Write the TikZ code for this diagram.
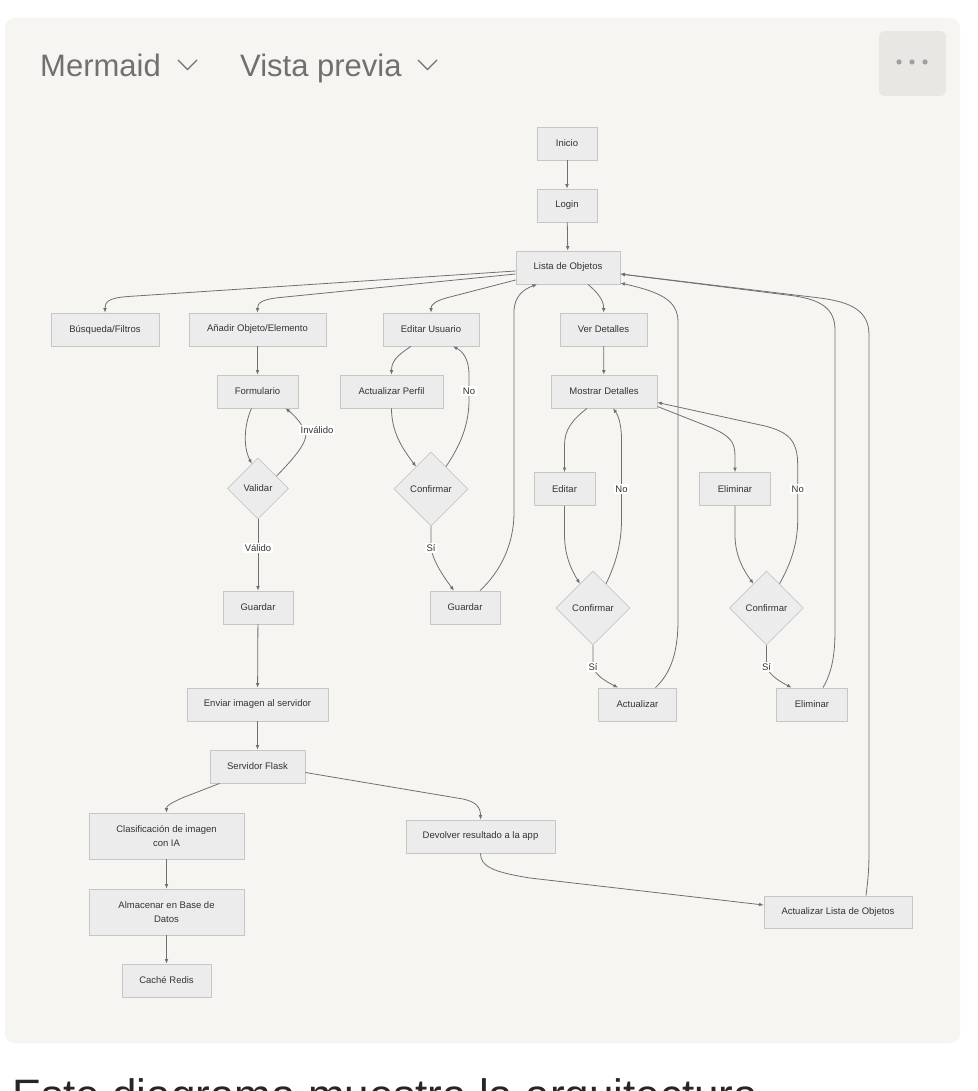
\documentclass[tikz,border=0pt]{standalone}
\usepackage{fontspec}
\setmainfont{Liberation Sans}
\usetikzlibrary{shapes.geometric,arrows.meta,calc}
\definecolor{panel}{HTML}{F6F5F2}
\definecolor{nodef}{HTML}{ECECEC}
\definecolor{nodeb}{HTML}{C6C6C6}
\definecolor{edgec}{HTML}{707070}
\definecolor{txt}{HTML}{333333}
\definecolor{hdr}{HTML}{707070}
\definecolor{btn}{HTML}{E8E7E4}
\definecolor{dots}{HTML}{A0A0A0}
\begin{document}
\begin{tikzpicture}[x=1pt,y=-1pt,
  box/.style={rectangle, draw=nodeb, fill=nodef, line width=0.8pt, inner sep=0pt,
    minimum height=33pt, font=\fontsize{9.5}{14}\selectfont, text=txt, align=center},
  dia/.style={diamond, draw=nodeb, fill=nodef, line width=0.8pt, inner sep=0pt,
    font=\fontsize{9.5}{14}\selectfont, text=txt},
  e/.style={draw=edgec, line width=0.8pt, -{Latex[length=4.5pt,width=3.8pt]}},
  lbl/.style={fill=white, inner sep=1.5pt, font=\fontsize{9.5}{11}\selectfont, text=txt},
  hd/.style={anchor=base west, inner sep=0pt, font=\fontsize{31}{31}\selectfont, text=hdr}]
\useasboundingbox (0,0) rectangle (977,1091);
\fill[white] (0,0) rectangle (977,1091);
\fill[panel, rounded corners=10pt] (5,18) rectangle (960,1043);
% header
\node[hd] (mermaid) at (40,77) {Mermaid};
\draw[hdr, line width=1.2pt] (178,60) -- (187.5,69.5) -- (197,60);
\node[hd] (vista) at (240,77) {Vista previa};
\draw[hdr, line width=1.2pt] (418,60) -- (427.5,69.5) -- (437,60);
\fill[btn, rounded corners=6pt] (879,31) rectangle (946,96);
\foreach \xx in {899,912,925} \fill[dots] (\xx,62) circle (2.6pt);
% nodes
\node[box, minimum width=60pt] (inicio) at (567,143.5) {Inicio};
\node[box, minimum width=60pt] (login) at (567,205.5) {Login};
\node[box, minimum width=104pt] (lista) at (568,267.5) {Lista de Objetos};
\node[box, minimum width=108pt] (busq) at (105,329.5) {Búsqueda/Filtros};
\node[box, minimum width=137pt] (anad) at (257.5,329.5) {Añadir Objeto/Elemento};
\node[box, minimum width=96pt] (editu) at (431,329.5) {Editar Usuario};
\node[box, minimum width=87pt] (ver) at (603.5,329.5) {Ver Detalles};
\node[box, minimum width=81pt] (form) at (257.5,391.5) {Formulario};
\node[box, minimum width=103pt] (perfil) at (391.5,391.5) {Actualizar Perfil};
\node[box, minimum width=106pt] (mostrar) at (604,391.5) {Mostrar Detalles};
\node[dia, minimum width=61pt, minimum height=61pt] (validar) at (258,488.5) {Validar};
\node[dia, minimum width=74pt, minimum height=74pt] (conf1) at (431,489) {Confirmar};
\node[box, minimum width=61pt] (editar) at (564.5,489) {Editar};
\node[box, minimum width=71pt] (elim1) at (735,489) {Eliminar};
\node[dia, minimum width=74pt, minimum height=74pt] (conf2) at (593,608) {Confirmar};
\node[dia, minimum width=74pt, minimum height=74pt] (conf3) at (766.5,608) {Confirmar};
\node[box, minimum width=70pt] (guardL) at (258,607.5) {Guardar};
\node[box, minimum width=70pt] (guardR) at (465,607.5) {Guardar};
\node[box, minimum width=78pt] (actualizar) at (637.5,704.5) {Actualizar};
\node[box, minimum width=71pt] (elim2) at (812,704.5) {Eliminar};
\node[box, minimum width=141pt] (enviar) at (257.5,704.5) {Enviar imagen al servidor};
\node[box, minimum width=95pt] (flask) at (257.5,766.5) {Servidor Flask};
\node[box, minimum width=155pt, minimum height=46pt] (clasif) at (166.5,836) {Clasificación de imagen\\con IA};
\node[box, minimum width=149pt] (devolver) at (480.5,836.5) {Devolver resultado a la app};
\node[box, minimum width=155pt, minimum height=46pt] (almac) at (166.5,912) {Almacenar en Base de\\Datos};
\node[box, minimum width=148pt, minimum height=32pt] (actlista) at (838,912) {Actualizar Lista de Objetos};
\node[box, minimum width=89pt] (redis) at (166.5,980.5) {Caché Redis};
% edges
\draw[e] (inicio) -- (login);
\draw[e] (login) -- (lista);
\draw[e] ($(lista.west)+(0,3.5)$) -- (128,296.5) .. controls (108,298) and (105,302) .. (busq.north);
\draw[e] ($(lista.west)+(0,6.5)$) -- (280,297.5) .. controls (261,299.5) and (257.5,303) .. (anad.north);
\draw[e] ($(lista.west)+(0,12.5)$) -- (450,297) .. controls (434,301) and (431,305) .. (editu.north);
\draw[e] ($(lista.south)+(20,0)$) .. controls (597,292) and (604,300) .. (ver.north);
\draw[e] (anad) -- (form);
\draw[e] ($(form.south)+(-6,0)$) .. controls (244,425) and (243,447) .. ($(validar.north)!0.2!(validar.west)$);
\draw[e] ($(validar.north)!0.6!(validar.east)$) .. controls (294,458) and (306,444) .. (306,434) .. controls (303,424) and (293,414) .. ($(form.south east)+(-13,0)$);
\draw[e] (validar) -- (guardL);
\draw[e] (guardL) -- (enviar);
\draw[e] (enviar) -- (flask);
\draw[e] ($(flask.south west)+(10,0)$) -- (182,798) .. controls (169,804) and (166.5,806) .. (clasif.north);
\draw[e] ($(flask.east)+(0,6)$) -- (463,799) .. controls (477,802) and (480.5,808) .. (devolver.north);
\draw[e] (clasif) -- (almac);
\draw[e] (almac) -- (redis);
\draw[e] (devolver.south) .. controls (480.5,866) and (492,872) .. (530,878) -- ($(actlista.west)+(0,-7)$);
\draw[e] ($(actlista.north)+(28,0)$) .. controls (868,880) and (869,870) .. (869,850) -- (869,335) .. controls (869,310) and (850,302) .. (820,298) -- ($(lista.east)+(0,6.5)$);
\draw[e] ($(editu.south)+(-20,0)$) .. controls (396,356) and (391.5,362) .. (perfil.north);
\draw[e] (perfil.south) .. controls (391.5,432) and (402,448) .. ($(conf1.north)!0.4!(conf1.west)$);
\draw[e] ($(conf1.north)!0.4!(conf1.east)$) .. controls (460,446) and (469,425) .. (469,400) -- (469,375) .. controls (469,358) and (462,351) .. ($(editu.south)+(22,0)$);
\draw[e] (conf1.south) -- (431,548) .. controls (433,562) and (446,580) .. ($(guardR.north)+(-11,0)$);
\draw[e] ($(guardR.north)+(15,0)$) .. controls (500,572) and (514,545) .. (514,512) -- (514,312) .. controls (514,296) and (524,289) .. ($(lista.south)+(-31,0)$);
\draw[e] (ver) -- (mostrar);
\draw[e] ($(mostrar.south)+(-17,0)$) .. controls (572,420) and (564.5,430) .. (564.5,445) -- (editar.north);
\draw[e] (editar.south) -- (564.5,535) .. controls (564.5,556) and (572,571) .. ($(conf2.north)!0.35!(conf2.west)$);
\draw[e] ($(conf2.north)!0.35!(conf2.east)$) .. controls (615,565) and (621.5,545) .. (621.5,520) -- (621.5,440) .. controls (621.5,424) and (618,415) .. ($(mostrar.south)+(9,0)$);
\draw[e] (conf2.south) -- (593,667) .. controls (596,676) and (607,682) .. ($(actualizar.north)+(-19.5,0)$);
\draw[e] ($(actualizar.north)+(18,0)$) .. controls (672,672) and (678,650) .. (678,620) -- (678,322) .. controls (678,300) and (660,292) .. ($(lista.east)+(0,15.5)$);
\draw[e] ($(mostrar.east)+(0,15)$) -- (712,428) .. controls (730,436) and (735,442) .. (735,456) -- (elim1.north);
\draw[e] (elim1.south) -- (735,535) .. controls (735,556) and (744,571) .. ($(conf3.north)!0.35!(conf3.west)$);
\draw[e] ($(conf3.north)!0.35!(conf3.east)$) .. controls (790,565) and (797.7,545) .. (797.7,520) -- (797.7,465) .. controls (797.7,440) and (788,432) .. (765,426) -- ($(mostrar.east)+(0,11)$);
\draw[e] (conf3.south) -- (766.5,667) .. controls (770,676) and (781,682) .. ($(elim2.north)+(-20.5,0)$);
\draw[e] ($(elim2.north)+(11,0)$) .. controls (832,672) and (835,655) .. (835,630) -- (835,330) .. controls (835,308) and (820,300) .. (795,296) -- ($(lista.east)+(0,6.5)$);
% edge labels
\node[lbl] (linv) at (317,430) {Inválido};
\node[lbl] (lval) at (258,548) {Válido};
\node[lbl] (lno1) at (469,391) {No};
\node[lbl] (lsi1) at (431,548) {Sí};
\node[lbl] (lno2) at (621.5,489) {No};
\node[lbl] (lsi2) at (593,667) {Sí};
\node[lbl] (lno3) at (797.7,489) {No};
\node[lbl] (lsi3) at (766.5,667) {Sí};
% caption (cut off)
\begin{scope}
\clip (0,0) rectangle (977,1091);
\node[anchor=base west, inner sep=0pt, font=\fontsize{44}{44}\selectfont, text=black!85] (caption) at (12,1110) {Este diagrama muestra la arquitectura};
\end{scope}
\end{tikzpicture}
\end{document}
